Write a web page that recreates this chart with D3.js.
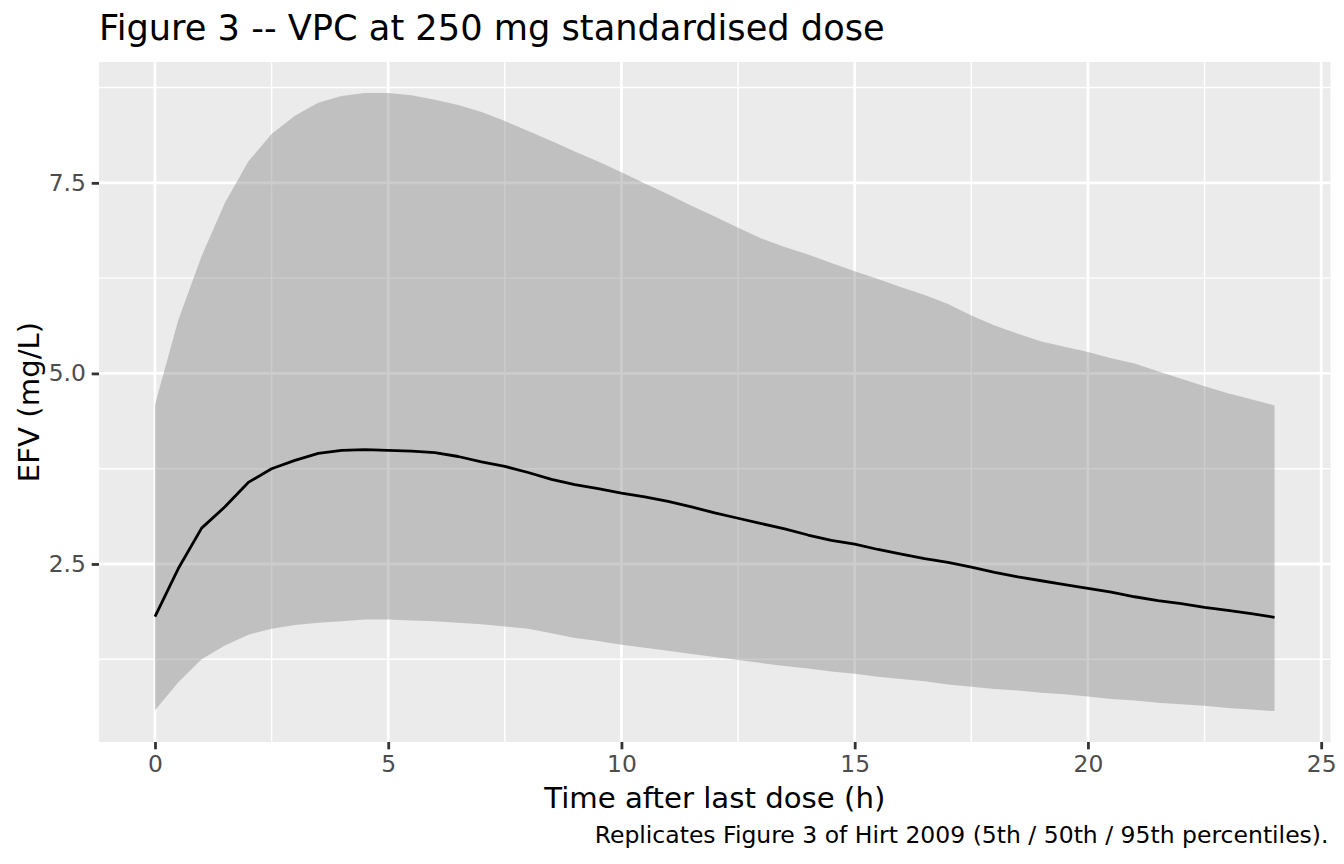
<!DOCTYPE html>
<html>
<head>
<meta charset="utf-8">
<script src="https://d3js.org/d3.v7.min.js"></script>
<style>
  body { margin: 0; background: #ffffff; }
  #chart text { font-family: "DejaVu Sans", sans-serif; }
</style>
</head>
<body>
<div id="chart"></div>
<script>
// time after last dose (h)
const times = [0, 0.5, 1, 1.5, 2, 2.5, 3, 3.5, 4, 4.5, 5, 5.5, 6, 6.5, 7, 7.5, 8, 8.5, 9, 9.5,
  10, 10.5, 11, 11.5, 12, 12.5, 13, 13.5, 14, 14.5, 15, 15.5, 16, 16.5, 17, 17.5, 18, 18.5,
  19, 19.5, 20, 20.5, 21, 21.5, 22, 22.5, 23, 23.5, 24];

// 5th percentile
const p05 = [0.58, 0.95, 1.25, 1.43, 1.57, 1.65, 1.70, 1.73, 1.75, 1.77, 1.77, 1.76, 1.75, 1.73,
  1.71, 1.68, 1.65, 1.59, 1.53, 1.49, 1.44, 1.40, 1.36, 1.32, 1.28, 1.24, 1.20, 1.16, 1.13, 1.09,
  1.06, 1.02, 0.99, 0.96, 0.92, 0.89, 0.86, 0.84, 0.81, 0.79, 0.76, 0.73, 0.71, 0.68, 0.66, 0.64,
  0.61, 0.59, 0.57];

// median
const p50 = [1.81, 2.44, 2.97, 3.25, 3.57, 3.75, 3.86, 3.95, 3.99, 4.00, 3.99, 3.98, 3.96, 3.91,
  3.84, 3.78, 3.70, 3.61, 3.54, 3.49, 3.43, 3.38, 3.32, 3.25, 3.17, 3.10, 3.03, 2.96, 2.88, 2.81,
  2.76, 2.69, 2.63, 2.57, 2.52, 2.46, 2.39, 2.33, 2.28, 2.23, 2.18, 2.13, 2.07, 2.02, 1.98, 1.93,
  1.89, 1.85, 1.80];

// 95th percentile
const p95 = [4.59, 5.70, 6.54, 7.24, 7.78, 8.14, 8.38, 8.55, 8.64, 8.68, 8.68, 8.65, 8.59, 8.52,
  8.43, 8.31, 8.18, 8.05, 7.91, 7.78, 7.64, 7.49, 7.35, 7.20, 7.06, 6.91, 6.77, 6.66, 6.56, 6.45,
  6.34, 6.24, 6.13, 6.03, 5.91, 5.76, 5.63, 5.52, 5.42, 5.35, 5.28, 5.20, 5.13, 5.03, 4.93, 4.83,
  4.74, 4.66, 4.58];

const xTicks = [0, 5, 10, 15, 20, 25];
const xMinor = [2.5, 7.5, 12.5, 17.5, 22.5];
const yTicks = [2.5, 5.0, 7.5];
const yMinor = [1.25, 3.75, 6.25, 8.75];

const titleText = "Figure 3 -- VPC at 250 mg standardised dose";
const xLabel = "Time after last dose (h)";
const yLabel = "EFV (mg/L)";
const captionText = "Replicates Figure 3 of Hirt 2009 (5th / 50th / 95th percentiles).";

const W = 1344, H = 864;
const margin = { top: 62, right: 13.5, bottom: 122, left: 99 };
const width = W - margin.left - margin.right;
const height = H - margin.top - margin.bottom;

const data = times.map((t, i) => ({ t: t, lo: p05[i], med: p50[i], hi: p95[i] }));

const root = d3.select("#chart")
  .append("svg")
  .attr("width", W)
  .attr("height", H);

const svg = root.append("g")
  .attr("transform", `translate(${margin.left}, ${margin.top})`);

// ggplot style 5% expansion
const xExt = d3.extent(times);
const xPad = (xExt[1] - xExt[0]) * 0.05;
const yExt = [d3.min(p05), d3.max(p95)];
const yPad = (yExt[1] - yExt[0]) * 0.05;

const x = d3.scaleLinear().domain([xExt[0] - xPad, xExt[1] + xPad]).range([0, width]);
const y = d3.scaleLinear().domain([yExt[0] - yPad, yExt[1] + yPad]).range([height, 0]);

svg.append("rect")
  .attr("width", width)
  .attr("height", height)
  .attr("fill", "#ebebeb");

// grid lines
svg.append("g")
  .selectAll("line")
  .data(yMinor)
  .join("line")
  .attr("x1", 0).attr("x2", width)
  .attr("y1", d => y(d)).attr("y2", d => y(d))
  .attr("stroke", "#ffffff").attr("stroke-width", 1.4);

svg.append("g")
  .selectAll("line")
  .data(xMinor)
  .join("line")
  .attr("y1", 0).attr("y2", height)
  .attr("x1", d => x(d)).attr("x2", d => x(d))
  .attr("stroke", "#ffffff").attr("stroke-width", 1.4);

svg.append("g")
  .selectAll("line")
  .data(yTicks)
  .join("line")
  .attr("x1", 0).attr("x2", width)
  .attr("y1", d => y(d)).attr("y2", d => y(d))
  .attr("stroke", "#ffffff").attr("stroke-width", 2.8);

svg.append("g")
  .selectAll("line")
  .data(xTicks)
  .join("line")
  .attr("y1", 0).attr("y2", height)
  .attr("x1", d => x(d)).attr("x2", d => x(d))
  .attr("stroke", "#ffffff").attr("stroke-width", 2.8);

// 5th - 95th ribbon
const area = d3.area()
  .x(d => x(d.t))
  .y0(d => y(d.lo))
  .y1(d => y(d.hi));

svg.append("path")
  .datum(data)
  .attr("d", area)
  .attr("fill", "#7f7f7f")
  .attr("fill-opacity", 0.4);

// median line
const line = d3.line()
  .x(d => x(d.t))
  .y(d => y(d.med));

svg.append("path")
  .datum(data)
  .attr("d", line)
  .attr("fill", "none")
  .attr("stroke", "#000000")
  .attr("stroke-width", 2.8)
  .attr("stroke-linejoin", "round");

// axes
const xAxis = svg.append("g")
  .attr("transform", `translate(0, ${height})`)
  .call(d3.axisBottom(x).tickValues(xTicks).tickFormat(d3.format("d")).tickSize(7.3).tickPadding(5.8));

const yAxis = svg.append("g")
  .call(d3.axisLeft(y).tickValues(yTicks).tickFormat(d3.format(".1f")).tickSize(7.3).tickPadding(5.8));

[xAxis, yAxis].forEach(ax => {
  ax.select(".domain").remove();
  ax.selectAll(".tick line").attr("stroke", "#333333").attr("stroke-width", 2.8);
  ax.selectAll(".tick text")
    .attr("fill", "#4d4d4d")
    .style("font-size", "23.4px");
});

// labels
root.append("text")
  .attr("x", margin.left)
  .attr("y", 40)
  .style("font-size", "35.2px")
  .attr("fill", "#000000")
  .text(titleText);

root.append("text")
  .attr("x", margin.left + width / 2)
  .attr("y", 808)
  .attr("text-anchor", "middle")
  .style("font-size", "29.2px")
  .attr("fill", "#000000")
  .text(xLabel);

root.append("text")
  .attr("transform", `translate(39, ${margin.top + height / 2}) rotate(-90)`)
  .attr("text-anchor", "middle")
  .style("font-size", "29.2px")
  .attr("fill", "#000000")
  .text(yLabel);

root.append("text")
  .attr("x", margin.left + width - 2)
  .attr("y", 843)
  .attr("text-anchor", "end")
  .style("font-size", "23.5px")
  .attr("fill", "#000000")
  .text(captionText);
</script>
</body>
</html>
